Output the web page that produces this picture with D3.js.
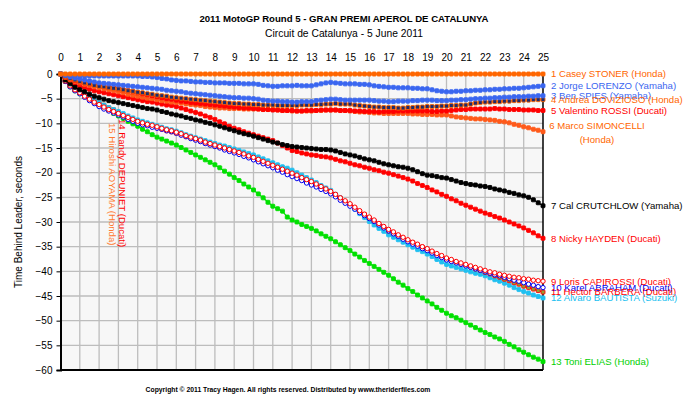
<!DOCTYPE html>
<html><head><meta charset="utf-8">
<script src="https://cdn.jsdelivr.net/npm/d3@7/dist/d3.min.js"></script>
<style>body{margin:0;background:#fff}svg{display:block}text{font-family:"Liberation Sans",Arial,sans-serif}</style>
</head><body>
<svg id="chart" width="685" height="406"></svg>
<script>
// ---- data: gap to leader (s), one value per quarter lap (sector split) ----
const lapTicks = d3.range(0, 26);
const secTicks = d3.range(0, -61, -5);
const splitsPerLap = 4;
const riderNames = [
  "1 Casey STONER (Honda)", "2 Jorge LORENZO (Yamaha)", "3 Ben SPIES (Yamaha)",
  "4 Andrea DOVIZIOSO (Honda)", "5 Valentino ROSSI (Ducati)", "6 Marco SIMONCELLI (Honda)",
  "7 Cal CRUTCHLOW (Yamaha)", "8 Nicky HAYDEN (Ducati)", "9 Loris CAPIROSSI (Ducati)",
  "10 Karel ABRAHAM (Ducati)", "11 Hector BARBERA (Ducati)", "12 Alvaro BAUTISTA (Suzuki)",
  "13 Toni ELIAS (Honda)", "14 Randy DEPUNIET (Ducati)", "15 Hiroshi AOYAMA (Honda)"
];
const stoner = [0,0,0,0, 0,0,0,0, 0,0,0,0, 0,0,0,0, 0,0,0,0, 0,0,0,0, 0,0,0,0, 0,0,0,0, 0,0,0,0, 0,0,0,0,
  0,0,0,0, 0,0,0,0, 0,0,0,0, 0,0,0,0, 0,0,0,0, 0,0,0,0, 0,0,0,0, 0,0,0,0, 0,0,0,0, 0,0,0,0, 0,0,0,0, 0,0,0,0,
  0,0,0,0, 0,0,0,0, 0,0,0,0, 0];
const lorenzo = [0,-0.1,-0.2,-0.3, -0.4,-0.4,-0.4,-0.4, -0.4,-0.4,-0.4,-0.4, -0.4,-0.4,-0.4,-0.4, -0.4,-0.5,-0.5,-0.6,
  -0.7,-0.9,-1.0,-1.2, -1.3,-1.4,-1.4,-1.5, -1.6,-1.6,-1.7,-1.7, -1.8,-1.8,-1.8,-1.9, -1.9,-1.9,-2.0,-2.0,
  -2.0,-2.1,-2.3,-2.4, -2.5,-2.5,-2.4,-2.4, -2.4,-2.3,-2.4,-2.4, -2.4,-2.2,-2.0,-1.8, -1.7,-1.8,-1.9,-2.0,
  -2.0,-2.0,-2.1,-2.1, -2.2,-2.4,-2.5,-2.6, -2.7,-2.7,-2.8,-2.8, -2.8,-2.9,-2.9,-3.0, -3.0,-3.2,-3.4,-3.5,
  -3.6,-3.6,-3.5,-3.5, -3.4,-3.4,-3.3,-3.3, -3.2,-3.2,-3.1,-3.1, -3.0,-3.0,-2.9,-2.9, -2.8,-2.7,-2.6,-2.5, -2.4];
const spies = [0,-0.3,-0.6,-0.8, -1.0,-1.2,-1.4,-1.6, -1.8,-1.9,-2.0,-2.1, -2.2,-2.3,-2.4,-2.5, -2.6,-2.7,-2.8,-2.9,
  -3.0,-3.1,-3.3,-3.4, -3.5,-3.6,-3.8,-3.9, -4.0,-4.1,-4.2,-4.3, -4.4,-4.5,-4.6,-4.7, -4.8,-4.8,-4.9,-4.9,
  -5.0,-5.1,-5.3,-5.4, -5.5,-5.5,-5.6,-5.6, -5.7,-5.7,-5.6,-5.6, -5.6,-5.4,-5.3,-5.2, -5.1,-5.1,-5.2,-5.3,
  -5.3,-5.3,-5.3,-5.3, -5.3,-5.4,-5.5,-5.5, -5.6,-5.6,-5.5,-5.5, -5.5,-5.4,-5.4,-5.3, -5.3,-5.3,-5.4,-5.4,
  -5.4,-5.3,-5.3,-5.2, -5.2,-5.1,-5.0,-5.0, -4.9,-4.9,-4.8,-4.8, -4.7,-4.7,-4.6,-4.6, -4.6,-4.5,-4.5,-4.4, -4.4];
const dovizioso = [0,-0.5,-0.9,-1.2, -1.5,-1.8,-2.0,-2.3, -2.5,-2.6,-2.8,-2.9, -3.0,-3.2,-3.4,-3.5, -3.7,-3.8,-4.0,-4.1,
  -4.3,-4.4,-4.5,-4.7, -4.8,-4.9,-5.0,-5.1, -5.2,-5.3,-5.4,-5.5, -5.6,-5.7,-5.8,-5.9, -6.0,-6.0,-6.1,-6.1,
  -6.2,-6.2,-6.3,-6.3, -6.3,-6.4,-6.4,-6.4, -6.4,-6.4,-6.3,-6.3, -6.3,-6.2,-6.2,-6.1, -6.1,-6.0,-6.1,-6.1,
  -6.1,-6.3,-6.4,-6.5, -6.6,-6.7,-6.7,-6.8, -6.8,-6.8,-6.9,-6.9, -6.8,-6.8,-6.7,-6.7, -6.6,-6.6,-6.6,-6.5,
  -6.5,-6.4,-6.4,-6.3, -6.3,-6.1,-5.9,-5.8, -5.7,-5.7,-5.6,-5.6, -5.5,-5.5,-5.4,-5.4, -5.3,-5.3,-5.2,-5.2, -5.2];
const rossi = [0,-0.6,-1.0,-1.3, -1.6,-1.8,-2.0,-2.2, -2.3,-2.5,-2.7,-2.8, -3.0,-3.2,-3.4,-3.6, -3.8,-4.0,-4.2,-4.4,
  -4.6,-4.8,-5.0,-5.1, -5.3,-5.5,-5.6,-5.8, -5.9,-6.0,-6.1,-6.2, -6.3,-6.4,-6.5,-6.6, -6.7,-6.8,-6.9,-6.9,
  -7.0,-7.1,-7.2,-7.2, -7.3,-7.3,-7.4,-7.4, -7.4,-7.5,-7.5,-7.4, -7.4,-7.4,-7.3,-7.3, -7.3,-7.3,-7.4,-7.4,
  -7.4,-7.5,-7.5,-7.6, -7.6,-7.6,-7.7,-7.6, -7.6,-7.6,-7.5,-7.5, -7.5,-7.5,-7.5,-7.5, -7.5,-7.6,-7.6,-7.5,
  -7.5,-7.4,-7.3,-7.2, -7.2,-7.1,-7.1,-7.1, -7.1,-7.1,-7.0,-7.1, -7.1,-7.2,-7.2,-7.2, -7.3,-7.3,-7.3,-7.4, -7.4];
const simoncelli = [0,-0.7,-1.2,-1.5, -1.8,-2.1,-2.3,-2.6, -2.8,-3.0,-3.2,-3.4, -3.6,-3.8,-4.1,-4.3, -4.5,-4.7,-4.9,-5.0,
  -5.2,-5.4,-5.5,-5.7, -5.8,-5.9,-6.1,-6.2, -6.3,-6.4,-6.6,-6.7, -6.8,-6.9,-6.9,-7.0, -7.0,-7.0,-7.1,-7.1,
  -7.1,-7.1,-7.2,-7.2, -7.2,-7.3,-7.4,-7.4, -7.5,-7.5,-7.5,-7.5, -7.5,-7.4,-7.4,-7.3, -7.3,-7.3,-7.4,-7.4,
  -7.5,-7.6,-7.7,-7.7, -7.8,-7.9,-7.9,-8.0, -8.0,-8.0,-8.0,-8.0, -8.0,-8.1,-8.1,-8.2, -8.2,-8.2,-8.3,-8.3,
  -8.3,-8.5,-8.7,-8.8, -8.9,-9.0,-9.1,-9.1, -9.2,-9.3,-9.4,-9.6, -9.7,-9.9,-10.2,-10.4, -10.7,-10.9,-11.2,-11.4, -11.7];
const crutchlow = [0,-1.2,-2.0,-2.7, -3.2,-3.6,-4.1,-4.5, -4.8,-5.1,-5.4,-5.6, -5.8,-6.0,-6.2,-6.4, -6.6,-6.8,-7.0,-7.1,
  -7.3,-7.6,-7.8,-8.1, -8.3,-8.5,-8.8,-9.0, -9.3,-9.5,-9.8,-10.0, -10.3,-10.6,-10.9,-11.2, -11.5,-11.8,-12.1,-12.3,
  -12.6,-12.9,-13.2,-13.5, -13.8,-14.0,-14.3,-14.5, -14.7,-14.8,-14.9,-15.0, -15.1,-15.2,-15.3,-15.3, -15.4,-15.6,-15.9,-16.2,
  -16.4,-16.6,-16.9,-17.2, -17.4,-17.6,-17.9,-18.2, -18.4,-18.6,-18.8,-18.9, -19.1,-19.4,-19.8,-20.2, -20.5,-20.6,-20.8,-21.0,
  -21.1,-21.4,-21.7,-22.0, -22.2,-22.4,-22.5,-22.7, -22.8,-23.0,-23.3,-23.5, -23.7,-24.0,-24.2,-24.5, -24.7,-25.0,-25.5,-26.1, -26.7];
const hayden = [0,-1.0,-1.6,-2.1, -2.5,-2.8,-3.1,-3.4, -3.6,-3.8,-4.0,-4.2, -4.4,-4.6,-4.8,-5.0, -5.2,-5.4,-5.6,-5.7,
  -5.9,-6.1,-6.3,-6.4, -6.6,-6.9,-7.2,-7.5, -7.8,-8.1,-8.5,-8.8, -9.2,-9.7,-10.1,-10.6, -11.0,-11.3,-11.7,-12.0,
  -12.3,-12.6,-12.9,-13.2, -13.5,-14.0,-14.5,-15.0, -15.5,-15.7,-16.0,-16.2, -16.4,-16.5,-16.7,-16.8, -17.0,-17.3,-17.6,-17.8,
  -18.1,-18.4,-18.6,-18.9, -19.1,-19.4,-19.6,-19.9, -20.1,-20.4,-20.7,-21.0, -21.3,-21.7,-22.2,-22.6, -23.0,-23.5,-23.9,-24.4,
  -24.8,-25.3,-25.7,-26.2, -26.6,-27.0,-27.4,-27.8, -28.2,-28.5,-28.9,-29.2, -29.6,-30.0,-30.4,-30.8, -31.2,-31.7,-32.2,-32.8, -33.3];
const capirossi = [0,-1.4,-2.4,-3.2, -3.8,-4.5,-5.1,-5.7, -6.2,-6.7,-7.2,-7.6, -8.0,-8.4,-8.8,-9.2, -9.6,-9.9,-10.2,-10.4,
  -10.7,-11.0,-11.3,-11.5, -11.8,-12.1,-12.5,-12.8, -13.1,-13.4,-13.8,-14.1, -14.4,-14.7,-15.0,-15.3, -15.6,-15.9,-16.2,-16.6,
  -16.9,-17.3,-17.7,-18.1, -18.5,-18.9,-19.3,-19.7, -20.1,-20.5,-21.0,-21.4, -21.8,-22.3,-22.8,-23.3, -23.8,-24.4,-25.1,-25.7,
  -26.3,-27.0,-27.7,-28.4, -29.0,-29.6,-30.3,-30.9, -31.5,-32.0,-32.6,-33.1, -33.6,-34.1,-34.5,-35.0, -35.4,-35.9,-36.4,-36.8,
  -37.3,-37.6,-38.0,-38.3, -38.6,-38.9,-39.2,-39.5, -39.8,-40.1,-40.3,-40.6, -40.8,-41.0,-41.2,-41.3, -41.5,-41.6,-41.8,-41.9, -42.0];
const abraham = [0,-1.5,-2.6,-3.4, -4.0,-4.7,-5.4,-6.0, -6.6,-7.1,-7.5,-7.9, -8.3,-8.7,-9.2,-9.6, -10.0,-10.3,-10.5,-10.8,
  -11.0,-11.2,-11.5,-11.7, -12.0,-12.4,-12.7,-13.1, -13.4,-13.7,-14.1,-14.4, -14.7,-15.0,-15.4,-15.7, -16.0,-16.3,-16.7,-17.0,
  -17.4,-17.8,-18.2,-18.6, -19.0,-19.5,-19.9,-20.4, -20.8,-21.2,-21.6,-22.1, -22.5,-22.9,-23.4,-23.8, -24.3,-24.9,-25.6,-26.2,
  -26.8,-27.4,-28.1,-28.7, -29.3,-29.9,-30.6,-31.2, -31.8,-32.4,-32.9,-33.5, -34.0,-34.5,-34.9,-35.4, -35.8,-36.3,-36.8,-37.2,
  -37.7,-38.0,-38.3,-38.6, -38.9,-39.2,-39.5,-39.8, -40.1,-40.4,-40.7,-40.9, -41.2,-41.5,-41.8,-42.0, -42.3,-42.6,-42.8,-43.1, -43.3];
const barbera = [0,-1.5,-2.5,-3.3, -3.9,-4.6,-5.2,-5.8, -6.4,-6.9,-7.4,-7.8, -8.2,-8.6,-9.0,-9.4, -9.8,-10.1,-10.4,-10.6,
  -10.9,-11.2,-11.5,-11.7, -12.0,-12.3,-12.7,-13.0, -13.3,-13.6,-14.0,-14.3, -14.6,-14.9,-15.2,-15.5, -15.8,-16.1,-16.5,-16.8,
  -17.2,-17.6,-18.0,-18.4, -18.8,-19.2,-19.6,-20.0, -20.4,-20.8,-21.3,-21.7, -22.1,-22.6,-23.0,-23.5, -24.0,-24.6,-25.2,-25.9,
  -26.5,-27.2,-27.9,-28.5, -29.2,-29.8,-30.5,-31.1, -31.8,-32.3,-32.8,-33.3, -33.8,-34.2,-34.7,-35.1, -35.6,-36.1,-36.6,-37.1,
  -37.6,-37.9,-38.2,-38.5, -38.8,-39.1,-39.5,-39.8, -40.2,-40.5,-40.9,-41.2, -41.6,-41.9,-42.3,-42.6, -43.0,-43.3,-43.6,-43.9, -44.2];
const bautista = [0,-1.3,-2.3,-3.0, -3.5,-4.1,-4.7,-5.3, -5.8,-6.3,-6.8,-7.2, -7.6,-8.0,-8.5,-8.9, -9.3,-9.6,-9.9,-10.2,
  -10.5,-10.8,-11.1,-11.3, -11.6,-11.9,-12.3,-12.6, -12.9,-13.2,-13.5,-13.8, -14.1,-14.4,-14.6,-14.9, -15.2,-15.5,-15.8,-16.1,
  -16.4,-16.8,-17.2,-17.6, -18.0,-18.4,-18.8,-19.1, -19.5,-20.0,-20.5,-21.0, -21.5,-22.0,-22.6,-23.1, -23.6,-24.4,-25.1,-25.9,
  -26.6,-27.4,-28.3,-29.1, -29.9,-30.6,-31.3,-31.9, -32.6,-33.1,-33.6,-34.1, -34.6,-35.1,-35.6,-36.0, -36.5,-37.0,-37.6,-38.1,
  -38.6,-38.9,-39.2,-39.5, -39.8,-40.1,-40.4,-40.6, -40.9,-41.3,-41.7,-42.0, -42.4,-42.8,-43.3,-43.7, -44.1,-44.4,-44.8,-45.1, -45.4];
const elias = [0,-1.5,-2.6,-3.4, -4.0,-4.6,-5.2,-5.8, -6.3,-6.9,-7.4,-8.0, -8.5,-9.0,-9.6,-10.1, -10.6,-11.2,-11.7,-12.3,
  -12.8,-13.2,-13.6,-14.0, -14.4,-14.9,-15.4,-15.9, -16.4,-16.9,-17.4,-17.9, -18.4,-19.0,-19.7,-20.3, -21.0,-21.6,-22.3,-22.9,
  -23.5,-24.3,-25.1,-26.0, -26.8,-27.3,-27.8,-29.0, -29.6,-30.0,-30.5,-30.9, -31.3,-31.8,-32.4,-32.9, -33.4,-34.0,-34.6,-35.2,
  -35.8,-36.5,-37.1,-37.8, -38.4,-39.0,-39.6,-40.2, -40.8,-41.5,-42.2,-42.8, -43.5,-44.1,-44.8,-45.4, -46.0,-46.6,-47.3,-47.9,
  -48.5,-49.0,-49.4,-49.9, -50.4,-50.9,-51.4,-51.9, -52.4,-52.8,-53.3,-53.7, -54.2,-54.8,-55.3,-55.9, -56.4,-56.9,-57.4,-57.8, -58.3];
const depuniet = [0,-1.4,-2.4,-3.2, -3.7,-4.4,-5.0,-5.5, -6.0,-6.5,-7.0,-7.4, -7.9];
const aoyama   = [0,-1.3,-2.2,-3.0, -3.5,-4.2,-4.8,-5.3, -5.8,-6.3,-6.8,-7.2, -7.7];
const seriesValues = [stoner, lorenzo, spies, dovizioso, rossi, simoncelli, crutchlow, hayden,
  capirossi, abraham, barbera, bautista, elias, depuniet, aoyama];

// ---- styles ----
const styles = [
  {line:"#ff6600", fill:"#ff6600", stroke:"#ff6600", shape:"sq", label:"#ff6600"},
  {line:"#3a66f0", fill:"#3a66f0", stroke:"#3a66f0", shape:"sq", label:"#3a66f0"},
  {line:"#3a66f0", fill:"#3a66f0", stroke:"#3a66f0", shape:"sq", label:"#3a66f0"},
  {line:"#ff6600", fill:"#1f2a6a", stroke:"#ff6600", shape:"sq", label:"#ff6600"},
  {line:"#ff0000", fill:"#ff0000", stroke:"#ff0000", shape:"sq", label:"#ff0000"},
  {line:"#ff3c10", fill:"#ff5a1a", stroke:"#ff5a1a", shape:"sq", label:"#ff6600"},
  {line:"#000000", fill:"#000000", stroke:"#000000", shape:"sq", label:"#000000"},
  {line:"#ff0000", fill:"#ff0000", stroke:"#ff0000", shape:"sq", label:"#ff0000"},
  {line:"#ff0000", fill:"#ffffff", stroke:"#ff0000", shape:"ci", label:"#ff0000"},
  {line:"#0000ee", fill:"#ffffff", stroke:"#0000ee", shape:"ci", label:"#0000ee"},
  {line:"#ff0000", fill:"#9a9a30", stroke:"#ff0000", shape:"sq", label:"#ff0000"},
  {line:"#20c0f0", fill:"#20c0f0", stroke:"#20c0f0", shape:"sq", label:"#20c0f0"},
  {line:"#00e000", fill:"#00e000", stroke:"#00e000", shape:"sq", label:"#00d000"},
  {line:"#ff0000", fill:"#ff0000", stroke:"#ff0000", shape:"sq", label:"#ff0000"},
  {line:"#ff6a20", fill:"#ff6a20", stroke:"#ff6a20", shape:"sq", label:"#ff7a30"}
];

const svg = d3.select("#chart");
const x = d3.scaleLinear().domain([0, 25]).range([60.5, 543]);
const y = d3.scaleLinear().domain([0, -60]).range([74, 370]);
const lapOf = i => i / splitsPerLap;

svg.append("rect").attr("x", x(0)).attr("y", y(0)).attr("width", x(25) - x(0)).attr("height", y(-60) - y(0)).attr("fill", "#f7f7f7");

svg.append("g").selectAll("line").data(lapTicks.filter(d => d > 0 && d < 25)).join("line")
  .attr("x1", d => x(d)).attr("x2", d => x(d)).attr("y1", y(0)).attr("y2", y(-60))
  .attr("stroke", "#bdbdbd").attr("stroke-width", 1.3);
svg.append("g").selectAll("line").data(secTicks.filter(d => d < 0 && d > -60)).join("line")
  .attr("x1", x(0)).attr("x2", x(25)).attr("y1", d => y(d)).attr("y2", d => y(d))
  .attr("stroke", "#bdbdbd").attr("stroke-width", 1.3);

const topAxis = svg.append("g").attr("transform", `translate(0,61)`)
  .call(d3.axisTop(x).tickValues(lapTicks).tickSize(0).tickPadding(0).tickFormat(d3.format("d")));
topAxis.select(".domain").remove();
topAxis.selectAll("text").attr("font-size", 10).attr("fill", "#000").style("font-family", "'Liberation Sans',Arial,sans-serif");

const leftAxis = svg.append("g").attr("transform", `translate(${x(0)},0)`)
  .call(d3.axisLeft(y).tickValues(secTicks).tickSize(4).tickPadding(4).tickFormat(d3.format("d")));
leftAxis.select(".domain").attr("stroke", "#000").attr("stroke-width", 2);
leftAxis.selectAll(".tick line").attr("stroke", "#000");
leftAxis.selectAll("text").attr("font-size", 10).attr("fill", "#000").style("font-family", "'Liberation Sans',Arial,sans-serif");

svg.append("line").attr("x1", x(0)).attr("x2", x(25)).attr("y1", y(-60)).attr("y2", y(-60)).attr("stroke", "#000").attr("stroke-width", 2);
svg.append("line").attr("x1", x(25)).attr("x2", x(25)).attr("y1", y(0)).attr("y2", y(-60)).attr("stroke", "#000").attr("stroke-width", 1.5);

const lineGen = d3.line().x((d, i) => x(lapOf(i))).y(d => y(d));
d3.range(seriesValues.length).reverse().forEach(k => {
  const vals = seriesValues[k], st = styles[k];
  const g = svg.append("g");
  g.append("path").attr("d", lineGen(vals)).attr("fill", "none").attr("stroke", st.line).attr("stroke-width", 1.3);
  if (st.shape === "sq") {
    g.selectAll("rect").data(vals).join("rect")
      .attr("x", (d, i) => x(lapOf(i)) - 2).attr("y", d => y(d) - 2).attr("width", 4).attr("height", 4).attr("rx", 0.8)
      .attr("fill", st.fill).attr("stroke", st.stroke).attr("stroke-width", 0.9);
  } else {
    g.selectAll("circle").data(vals).join("circle")
      .attr("cx", (d, i) => x(lapOf(i))).attr("cy", d => y(d)).attr("r", 2.2)
      .attr("fill", st.fill).attr("stroke", st.stroke).attr("stroke-width", 1);
  }
});

const labelG = svg.append("g").attr("font-size", 9.6);
for (let k = 0; k < 13; k++) {
  const vals = seriesValues[k];
  const last = vals[vals.length - 1];
  if (k === 5) {
    const t = labelG.append("text").attr("fill", styles[k].label).attr("text-anchor", "middle");
    t.append("tspan").attr("x", 597).attr("y", y(last) - 3).text("6 Marco SIMONCELLI");
    t.append("tspan").attr("x", 597).attr("y", y(last) + 11).text("(Honda)");
  } else {
    labelG.append("text").attr("x", 551).attr("y", y(last)).attr("dy", "0.35em")
      .attr("fill", styles[k].label).text(riderNames[k]);
  }
}
[13, 14].forEach((k, j) => {
  const vals = seriesValues[k];
  const lx = x(lapOf(vals.length - 1)) + (j === 0 ? 0 : -10);
  const ly = y(vals[vals.length - 1]) + 6 + j * 5;
  svg.append("text").attr("transform", `translate(${lx},${ly}) rotate(90)`)
    .attr("font-size", 9.6).attr("fill", styles[k].label).attr("dy", "-0.1em").text(riderNames[k]);
});

svg.append("text").attr("x", 344).attr("y", 22).attr("text-anchor", "middle").attr("font-size", 9.6).attr("font-weight", "bold").text("2011 MotoGP Round 5 - GRAN PREMI APEROL DE CATALUNYA");
svg.append("text").attr("x", 344).attr("y", 37).attr("text-anchor", "middle").attr("font-size", 10.3).text("Circuit de Catalunya - 5 June 2011");
svg.append("text").attr("transform", `translate(22,${y(-30)}) rotate(-90)`).attr("text-anchor", "middle").attr("font-size", 10).text("Time Behind Leader, seconds");
svg.append("text").attr("x", 288).attr("y", 392).attr("text-anchor", "middle").attr("font-size", 6.8).attr("font-weight", "bold").text("Copyright \u00a9 2011 Tracy Hagen. All rights reserved. Distributed by www.theriderfiles.com");
</script>
</body></html>
